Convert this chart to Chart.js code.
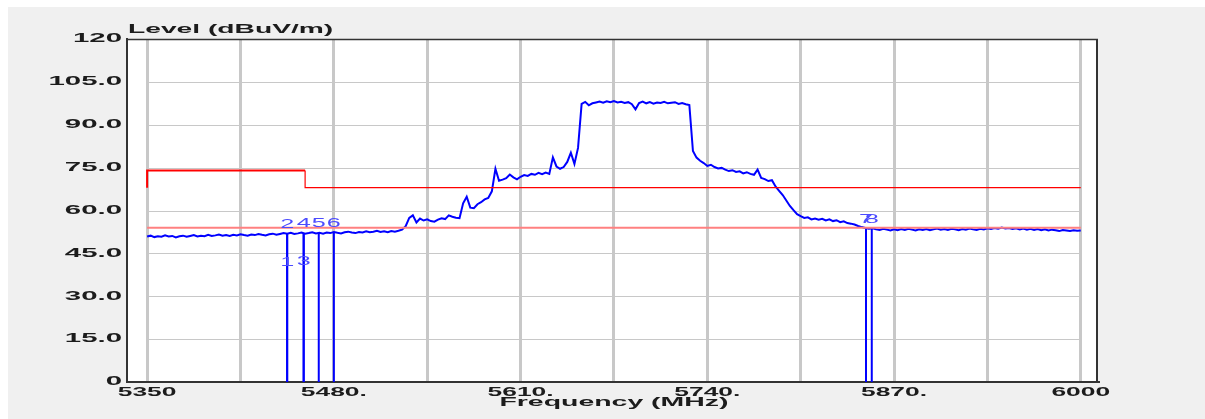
<!DOCTYPE html>
<html>
<head>
<meta charset="utf-8">
<title>Level (dBuV/m)</title>
<script src="https://cdn.jsdelivr.net/npm/chart.js@4.4.1/dist/chart.umd.min.js"></script>
<style>
  html, body { margin: 0; padding: 0; background: #ffffff; }
  #panel { position: absolute; left: 8px; top: 7px; width: 1197px; height: 412px; background: #f0f0f0; }
  #panel canvas { display: block; }
</style>
</head>
<body>
<div id="panel"><canvas id="levelChart" width="1197" height="412"></canvas></div>
<script>
// sweep: 5350 - 6000 MHz, one reading every 2.5 MHz
var traceStart = 5350;
var traceStep = 2.5;
var traceLevels = [
    50.9, 51.2, 50.7, 51.0, 50.8, 51.3, 50.9, 51.1, 50.6, 51.0,
    51.2, 50.8, 51.1, 51.4, 50.9, 51.2, 51.0, 51.5, 51.1, 51.3,
    51.6, 51.2, 51.4, 51.1, 51.5, 51.3, 51.7, 51.4, 51.2, 51.6,
    51.4, 51.8, 51.5, 51.3, 51.7, 51.9, 51.5, 51.8, 52.1, 51.9,
    52.2, 51.8, 52.0, 52.3, 51.9, 52.1, 52.4, 52.0, 52.2, 51.9,
    52.3, 52.1, 52.5, 52.2, 52.0, 52.4, 52.6, 52.3, 52.1, 52.5,
    52.3, 52.7, 52.4, 52.6, 52.9, 52.5, 52.7, 52.4, 52.8, 52.6,
    52.9, 53.3, 54.5, 57.4, 58.3, 55.8, 57.2, 56.5, 56.9, 56.3,
    56.1, 56.8, 57.3, 57.0, 58.3, 57.8, 57.5, 57.3, 62.5, 64.8,
    61.0, 60.8, 62.2, 62.9, 63.9, 64.4, 66.7, 74.6, 70.4, 70.8,
    71.3, 72.6, 71.6, 70.9, 71.8, 72.4, 72.1, 72.8, 72.5, 73.2,
    72.7, 73.3, 72.8, 78.6, 75.4, 74.6, 75.2, 77.0, 80.2, 76.3,
    81.9, 97.3, 98.0, 96.8, 97.5, 97.8, 98.1, 97.7, 98.2, 97.9,
    98.3, 97.8, 98.0, 97.6, 97.9, 97.2, 95.4, 97.6, 98.1, 97.5,
    97.9, 97.4, 97.8, 97.6, 98.0, 97.5, 97.7, 97.9, 97.3, 97.6,
    97.2, 96.9, 80.8, 78.5, 77.4, 76.6, 75.6, 76.0, 75.2, 74.7,
    74.9, 74.3, 73.8, 74.1, 73.5, 73.7, 73.0, 73.4, 72.8, 72.5,
    74.3, 71.4, 71.0, 70.3, 70.6, 68.4, 66.9, 65.4, 63.5, 61.6,
    60.1, 58.7, 58.0, 57.4, 57.6, 56.9, 57.2, 56.8, 57.1, 56.5,
    56.9, 56.3, 56.6, 55.9, 56.2, 55.6, 55.4, 55.1, 54.6, 54.2,
    53.9, 53.6, 53.8, 53.4, 53.2, 53.6, 53.3, 53.0, 53.4, 53.1,
    53.5, 53.2, 53.6, 53.3, 53.0, 53.4, 53.2, 53.5, 53.1, 53.4,
    53.7, 53.3, 53.5, 53.2, 53.6, 53.4, 53.1, 53.5, 53.3, 53.7,
    53.4, 53.2, 53.6, 53.4, 53.8, 53.5, 53.9, 53.6, 54.0, 53.7,
    53.9, 53.5, 53.8, 53.4, 53.7, 53.3, 53.6, 53.2, 53.5, 53.1,
    53.4, 53.0, 53.3, 53.1, 52.8, 53.2, 53.0, 52.8, 53.1, 52.9,
    53.0
];

// limit lines
var limitFreqs = [5350, 5350, 5460, 5460, 6000];
var limitLevels = [68, 74, 74, 68, 68];
var avgLimitFreqs = [5350, 6000];
var avgLimitLevels = [54, 54];

// markers
var markerIds = ['1', '2', '3', '4', '5', '6', '7', '8'];
var markerFreqs = [5447.5, 5447.5, 5459, 5459, 5469.5, 5480, 5850.5, 5854.5];
var markerLevels = [51.9, 51.9, 52.1, 52.1, 52.2, 52.3, 53.8, 53.7];
var markerSides = ['below', 'above', 'below', 'above', 'above', 'above', 'above', 'above'];

// axes
var xGridValues = [5350, 5415, 5480, 5545, 5610, 5675, 5740, 5805, 5870, 5935, 6000];
var xTickLabels = ['5350', '', '5480.', '', '5610.', '', '5740.', '', '5870.', '', '6000'];
var yTickValues = [0, 15, 30, 45, 60, 75, 90, 105, 120];
var yTickLabels = ['0', '15.0', '30.0', '45.0', '60.0', '75.0', '90.0', '105.0', '120'];
var xTitle = 'Frequency (MHz)';
var yTitle = 'Level (dBuV/m)';

function toPoints(xs, ys) {
    return xs.map(function (x, i) { return { x: x, y: ys[i] }; });
}

var tracePoints = traceLevels.map(function (v, i) {
    return { x: traceStart + i * traceStep, y: v };
});

// text in this plot is drawn wide, so it is scaled horizontally
function wideText(ctx, text, x, y, align, sx) {
    ctx.save();
    ctx.translate(x, y);
    ctx.scale(sx, 1);
    ctx.textAlign = align;
    ctx.fillText(text, 0, 0);
    ctx.restore();
}

var plotDecor = {
    id: 'plotDecor',
    beforeDraw: function (chart) {
        var a = chart.chartArea, ctx = chart.ctx;
        ctx.save();
        ctx.fillStyle = '#ffffff';
        ctx.fillRect(a.left, a.top, a.right - a.left, a.bottom - a.top);
        ctx.restore();
    },
    beforeDatasetsDraw: function (chart) {
        // horizontal grid only spans the swept range
        var ctx = chart.ctx, xs = chart.scales.x, ys = chart.scales.y;
        var x0 = xs.getPixelForValue(xGridValues[0]);
        var x1 = xs.getPixelForValue(xGridValues[xGridValues.length - 1]);
        ctx.save();
        ctx.strokeStyle = '#c8c8c8';
        ctx.lineWidth = 1;
        yTickValues.slice(1, -1).forEach(function (v) {
            var y = Math.round(ys.getPixelForValue(v)) + 0.5;
            ctx.beginPath();
            ctx.moveTo(x0, y);
            ctx.lineTo(x1, y);
            ctx.stroke();
        });
        ctx.restore();
    },
    afterDraw: function (chart) {
        var a = chart.chartArea, ctx = chart.ctx, xs = chart.scales.x, ys = chart.scales.y;
        ctx.save();

        // top and right frame
        ctx.strokeStyle = '#333333';
        ctx.lineWidth = 1.5;
        ctx.beginPath();
        ctx.moveTo(a.left, a.top + 0.5);
        ctx.lineTo(a.right, a.top + 0.5);
        ctx.stroke();
        ctx.lineWidth = 2;
        ctx.beginPath();
        ctx.moveTo(a.right - 1, a.top);
        ctx.lineTo(a.right - 1, a.bottom);
        ctx.stroke();

        ctx.fillStyle = '#1c1c1c';
        ctx.font = 'bold 12px "Liberation Sans", Arial, sans-serif';

        ctx.textBaseline = 'middle';
        yTickValues.forEach(function (v, i) {
            wideText(ctx, yTickLabels[i], a.left - 5, ys.getPixelForValue(v), 'right', 2.45);
        });

        ctx.textBaseline = 'top';
        xGridValues.forEach(function (v, i) {
            if (xTickLabels[i]) {
                wideText(ctx, xTickLabels[i], xs.getPixelForValue(v), a.bottom + 5, 'center', 2.2);
            }
        });

        ctx.textBaseline = 'alphabetic';
        wideText(ctx, xTitle, xs.getPixelForValue(5675), a.bottom + 24, 'center', 2.37);
        wideText(ctx, yTitle, a.left + 1, a.top - 6, 'left', 2.35);

        // marker numbers
        ctx.fillStyle = '#4b4bff';
        ctx.font = '12px "Liberation Sans", Arial, sans-serif';
        ctx.textBaseline = 'middle';
        markerIds.forEach(function (id, i) {
            var x = xs.getPixelForValue(markerFreqs[i]);
            var y = ys.getPixelForValue(markerLevels[i]);
            y += markerSides[i] === 'above' ? -9 : 29;
            wideText(ctx, id, x, y, 'center', 2.1);
        });

        ctx.restore();
    }
};

var datasets = [{
    data: toPoints(avgLimitFreqs, avgLimitLevels),
    borderColor: '#ff8080',
    borderWidth: 2
}, {
    data: toPoints(limitFreqs, limitLevels),
    borderColor: '#ff0000',
    borderWidth: 2,
    segment: {
        borderWidth: function (ctx) { return ctx.p0.parsed.x >= 5460 ? 1.2 : 2; }
    }
}];

markerFreqs.forEach(function (f, i) {
    datasets.push({
        data: [{ x: f, y: 0 }, { x: f, y: markerLevels[i] }],
        borderColor: '#0000ff',
        borderWidth: 2
    });
});

datasets.push({
    data: tracePoints,
    borderColor: '#0000ff',
    borderWidth: 2
});

new Chart(document.getElementById('levelChart'), {
    type: 'line',
    data: { datasets: datasets },
    options: {
        responsive: false,
        animation: false,
        events: [],
        layout: { padding: { left: 119, top: 32, right: 107, bottom: 37 } },
        elements: {
            point: { radius: 0 },
            line: { tension: 0, fill: false }
        },
        plugins: {
            legend: { display: false },
            tooltip: { enabled: false }
        },
        scales: {
            x: {
                type: 'linear',
                min: 5336,
                max: 6012,
                afterBuildTicks: function (scale) {
                    scale.ticks = xGridValues.map(function (v) { return { value: v }; });
                },
                ticks: { display: false },
                grid: { color: '#c8c8c8', lineWidth: 3, drawTicks: false },
                border: { color: '#333333', width: 2 }
            },
            y: {
                min: 0,
                max: 120,
                ticks: { display: false, stepSize: 15 },
                grid: { display: false, drawTicks: false },
                border: { color: '#333333', width: 2 }
            }
        }
    },
    plugins: [plotDecor]
});
</script>
</body>
</html>
